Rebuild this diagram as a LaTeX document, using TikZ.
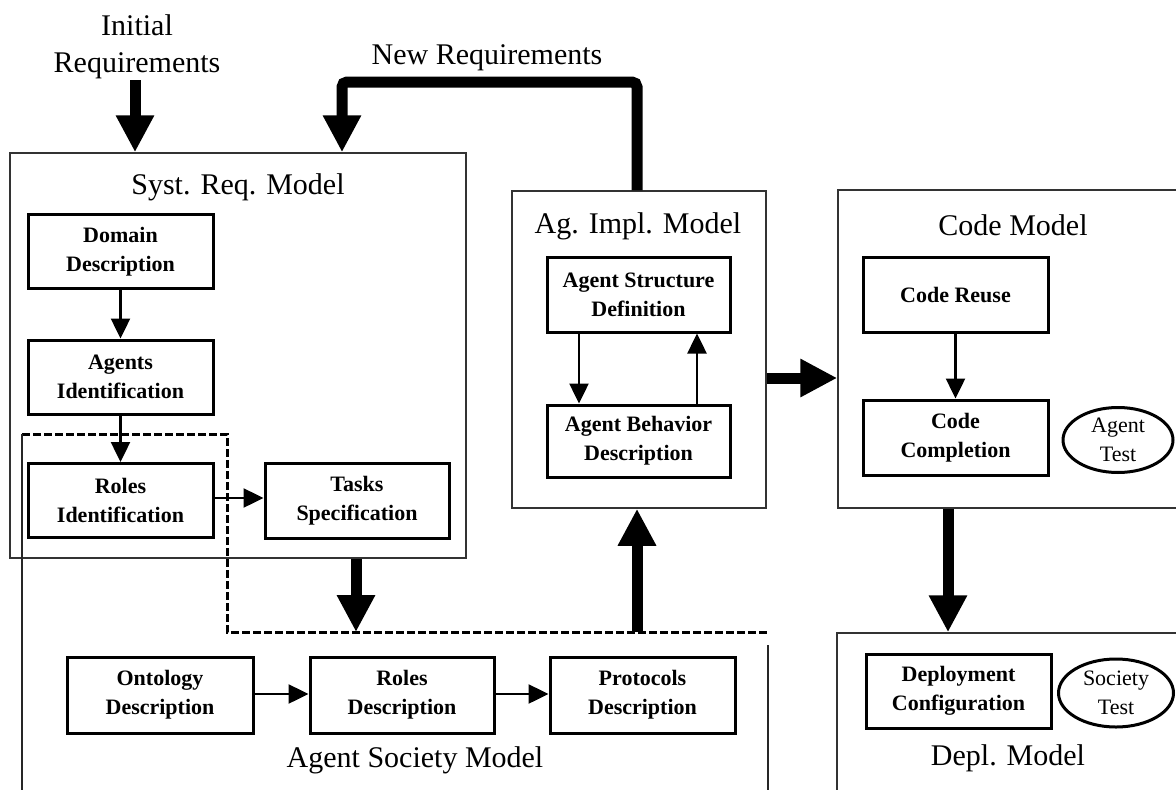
\documentclass[tikz,border=0pt]{standalone}
\usepackage{fontspec}
\setmainfont{Liberation Serif}
\usetikzlibrary{arrows.meta,shapes.geometric}
\begin{document}
\begin{tikzpicture}[x=1pt,y=-1pt,
  outerbox/.style={draw=black!80, line width=1.5pt, inner sep=0pt},
  outerline/.style={draw=black!85, line width=1.5pt},
  innerbox/.style={draw, line width=3pt, inner sep=0pt, minimum width=185pt, minimum height=74pt, align=center, font=\bfseries\fontsize{22}{29}\selectfont},
  ttl/.style={inner sep=0pt, align=center, font=\fontsize{30}{37}\selectfont},
  testell/.style={ellipse, draw, line width=3pt, inner sep=0pt, align=center, font=\fontsize{22}{29}\selectfont},
  bigarrow/.style={line width=11pt, -{Triangle[length=37pt,width=36pt]}},
  smallarrow/.style={line width=2.5pt, -{Triangle[length=20pt,width=19pt]}},
  dashline/.style={line width=3pt, dash pattern=on 8pt off 3pt}
]
\clip (0,0) rectangle (1176,790);
\fill[white] (0,0) rectangle (1176,790);

% ---------- Syst. Req. Model ----------
\node[outerbox, minimum width=456pt, minimum height=405pt] (srm) at (238,355.5) {};
\node[ttl] (srmT) at (238,187) {Syst. Req. Model};
\node[innerbox] (dd) at (120.5,251.5) {Domain\\Description};
\node[innerbox] (ai) at (120.5,377) {Agents\\Identification};
\node[innerbox] (ri) at (120.5,500.5) {Roles\\Identification};
\node[innerbox, minimum width=184pt, minimum height=75pt] (ts) at (357,501) {Tasks\\Specification};

% ---------- Ag. Impl. Model ----------
\node[outerbox, minimum width=254pt, minimum height=317pt] (aim) at (639,349.5) {};
\node[ttl] (aimT) at (638,226) {Ag. Impl. Model};
\node[innerbox, minimum width=183pt, minimum height=75pt] (asd) at (638.5,294.5) {Agent Structure\\Definition};
\node[innerbox, minimum width=183pt, minimum height=72pt] (abd) at (638.5,441) {Agent Behavior\\Description};

% ---------- Code Model ----------
\node[outerbox, minimum width=352pt, minimum height=318pt] (cm) at (1014,349) {};
\node[ttl] (cmT) at (1013,225) {Code Model};
\node[innerbox, minimum height=75pt] (cr) at (955.5,294.5) {Code Reuse};
\node[innerbox, minimum height=75pt] (cc) at (955.5,437.5) {Code\\Completion};
\node[testell, minimum width=110pt, minimum height=65pt] (at) at (1118,440) {Agent\\Test};

% ---------- Depl. Model ----------
\node[outerbox, minimum width=353pt, minimum height=177pt] (dm) at (1013.5,721.5) {};
\node[innerbox] (dc) at (958.5,691) {Deployment\\Configuration};
\node[testell, minimum width=115pt, minimum height=68pt] (st) at (1116,693) {Society\\Test};
\node[ttl] (dmT) at (1008,758) {Depl. Model};

% ---------- Agent Society Model ----------
\coordinate (asA) at (22,434);
\coordinate (asB) at (227,434);
\coordinate (asC) at (227,632);
\coordinate (asD) at (768,632);
\coordinate (asL) at (22,800);
\coordinate (asR1) at (768,645);
\coordinate (asR2) at (768,800);
\draw[dashline] (asA) -- (asB) -- (asC) -- (asD);
\draw[outerline] (asA) -- (asL);
\draw[outerline] (asR1) -- (asR2);
\node[innerbox, minimum width=186pt, minimum height=76pt] (od) at (160,695) {Ontology\\Description};
\node[innerbox, minimum width=184pt, minimum height=76pt] (rd) at (402,695) {Roles\\Description};
\node[innerbox, minimum width=185pt, minimum height=76pt] (pd) at (642.5,695) {Protocols\\Description};
\node[ttl] (asmT) at (415,760) {Agent Society Model};

% ---------- external labels ----------
\node[ttl] (initlbl) at (137,46.5) {Initial\\Requirements};
\node[ttl] (newlbl) at (487,58) {New Requirements};

% ---------- small arrows ----------
\draw[smallarrow] (dd.south) -- (ai.north);
\draw[smallarrow] (ai.south) -- (ri.north);
\coordinate (rtY) at (0,498);
\draw[smallarrow] (ri.east |- rtY) -- (ts.west |- rtY);
\coordinate (xdown) at (579,0);
\coordinate (xup) at (697,0);
\draw[smallarrow] (asd.south -| xdown) -- (abd.north -| xdown);
\draw[smallarrow] (abd.north -| xup) -- (asd.south -| xup);
\draw[smallarrow] (cr.south) -- (cc.north);
\coordinate (odY) at (0,694);
\draw[smallarrow] (od.east |- odY) -- (rd.west |- odY);
\draw[smallarrow] (rd.east |- odY) -- (pd.west |- odY);

% ---------- big arrows ----------
\coordinate (initS) at (135,80);
\draw[bigarrow] (initS) -- (initS |- srm.north);
\coordinate (nrX) at (637,0);
\coordinate (nrCorner) at (342,82);
\draw[line width=11pt, rounded corners=5pt, -{Triangle[length=37pt,width=36pt]}]
  (aim.north -| nrX) |- (nrCorner) -- (nrCorner |- srm.north);
\coordinate (srX) at (356,0);
\draw[bigarrow] (srm.south -| srX) -- (asD -| srX);
\draw[bigarrow] (asD -| nrX) -- (aim.south -| nrX);
\coordinate (aimY) at (0,378);
\draw[bigarrow] (aim.east |- aimY) -- (cm.west |- aimY);
\coordinate (cmX) at (948,0);
\draw[bigarrow] (cm.south -| cmX) -- (dm.north -| cmX);
\end{tikzpicture}
\end{document}
